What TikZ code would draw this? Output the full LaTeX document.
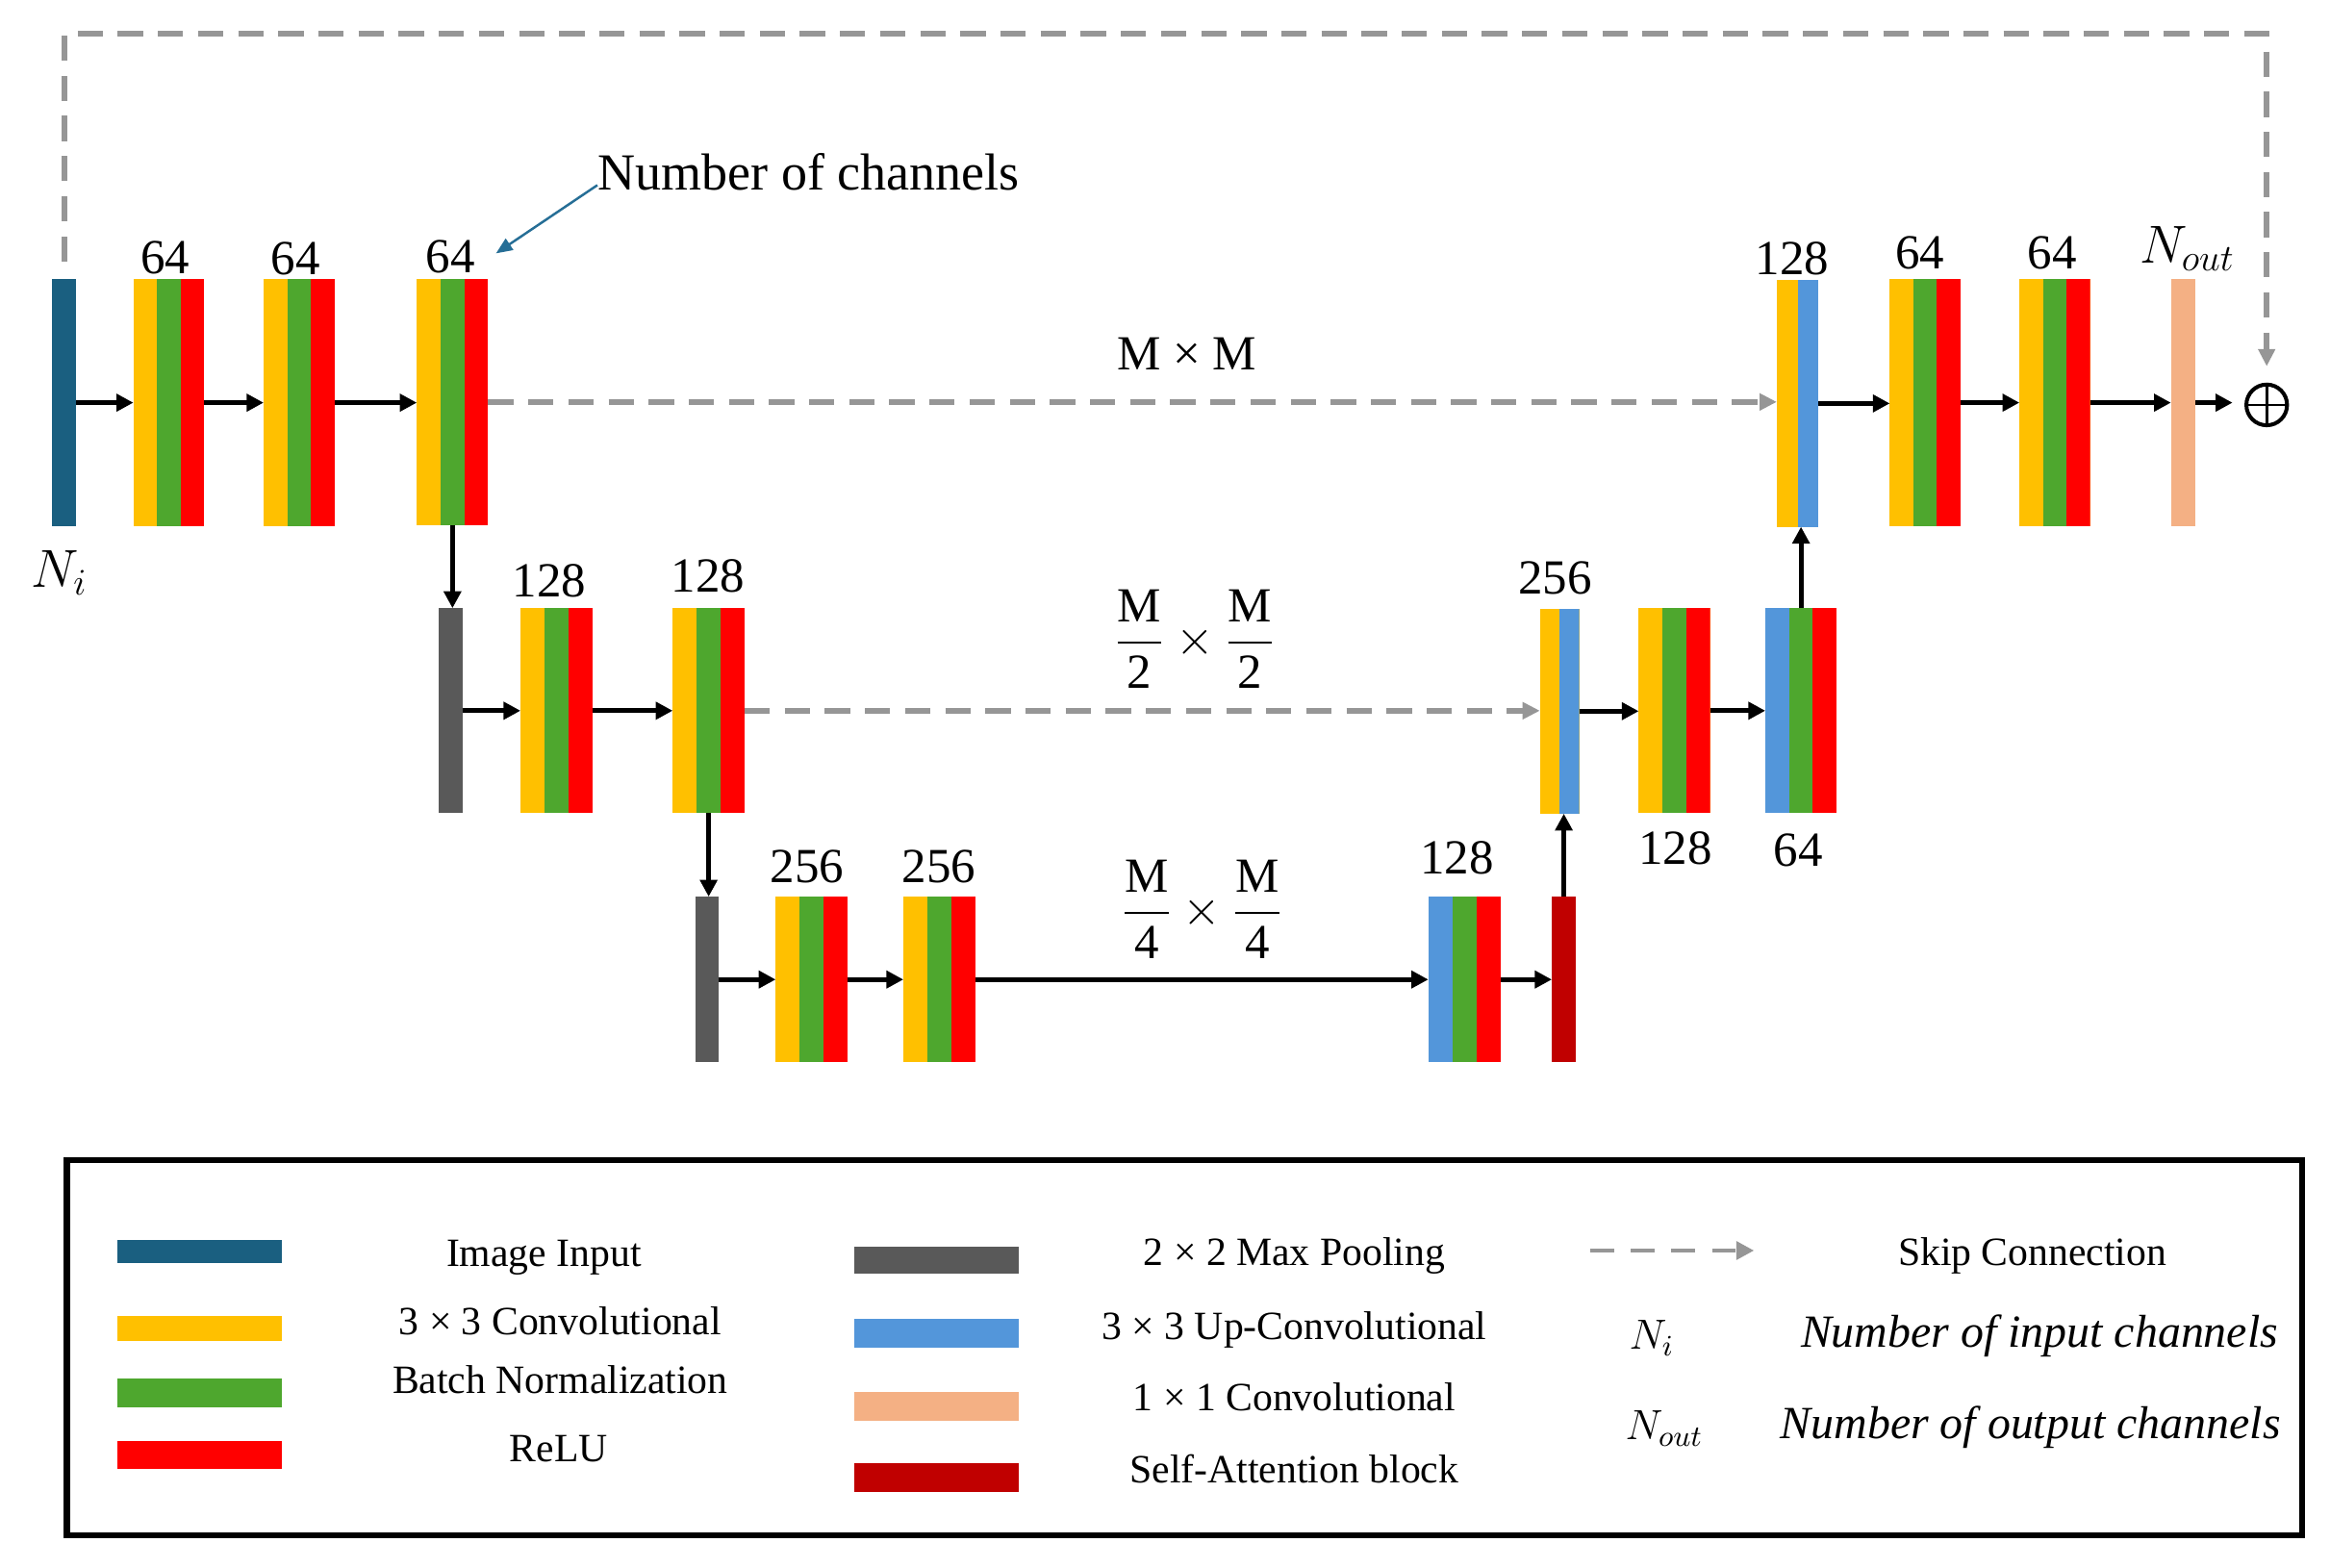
\RequirePackage{fix-cm}
\documentclass[tikz,border=0pt]{standalone}
\usepackage{amsmath}
\usepackage{fontspec}
\setmainfont{Liberation Serif}
\usetikzlibrary{arrows.meta,calc}

\definecolor{cin}{RGB}{26,95,128}
\definecolor{cyel}{RGB}{255,192,0}
\definecolor{cgrn}{RGB}{78,167,46}
\definecolor{cred}{RGB}{255,0,0}
\definecolor{cpool}{RGB}{89,89,89}
\definecolor{cup}{RGB}{83,150,218}
\definecolor{cpeach}{RGB}{244,176,132}
\definecolor{csa}{RGB}{192,0,0}
\definecolor{cskip}{RGB}{150,150,150}
\definecolor{cann}{RGB}{38,110,150}

\newcommand\mylblfont{\fontsize{16.5}{19}\selectfont}
\newcommand\mylgdfont{\fontsize{13.5}{16}\selectfont}
\newcommand\mynfont{\fontsize{18}{21}\selectfont}
\newcommand\mylnfont{\fontsize{14.2}{17}\selectfont}
\newcommand\myitfont{\fontsize{15.5}{18}\selectfont\itshape}

\tikzset{
  blk/.style={inner sep=0pt, outer sep=0pt},
  one/.style={blk, fill=#1},
  two/.style 2 args={blk, fill=#1, path picture={
     \fill[#1] (path picture bounding box.south west) rectangle ($(path picture bounding box.north west)!0.5!(path picture bounding box.north east)$);
     \fill[#2] ($(path picture bounding box.south west)!0.5!(path picture bounding box.south east)$) rectangle (path picture bounding box.north east);}},
  three/.style n args={3}{blk, fill=#1, path picture={
     \fill[#1] (path picture bounding box.south west) rectangle ($(path picture bounding box.north west)!1/3!(path picture bounding box.north east)$);
     \fill[#2] ($(path picture bounding box.south west)!1/3!(path picture bounding box.south east)$) rectangle ($(path picture bounding box.north west)!2/3!(path picture bounding box.north east)$);
     \fill[#3] ($(path picture bounding box.south west)!2/3!(path picture bounding box.south east)$) rectangle (path picture bounding box.north east);}},
  rowa/.style={minimum height=83pt},
  rowb/.style={minimum height=69pt},
  rowc/.style={minimum height=55.75pt},
  arr/.style={line width=1.6pt, -{Triangle[length=5.7pt,width=5.7pt]}},
  skip/.style={draw=cskip, line width=1.8pt, dash pattern=on 8.5pt off 5pt, -{Triangle[length=5.8pt,width=5.5pt]}},
  legskip/.style={draw=cskip, line width=1.5pt, dash pattern=on 8pt off 5.7pt, -{Triangle[length=6pt,width=6pt]}},
  lab/.style={inner sep=0pt, anchor=base, font=\mylblfont},
  leg/.style={inner sep=0pt, anchor=base, font=\mylgdfont},
}

\begin{document}
\begin{tikzpicture}[x=0.5pt, y=-0.5pt]
\useasboundingbox (0,0) rectangle (1568,1055);

% ---------- row 1 ----------
\node[one=cin, minimum width=8pt, rowa] (in) at (43.25,271) {};
\node[three={cyel}{cgrn}{cred}, minimum width=23.75pt, rowa] (c1) at (113.5,271) {};
\node[three={cyel}{cgrn}{cred}, minimum width=24pt, rowa] (c2) at (201.4,271) {};
\node[three={cyel}{cgrn}{cred}, minimum width=24pt, rowa] (c3) at (304.5,270.5) {};
\node[two={cyel}{cup}, minimum width=14pt, rowa] (u1) at (1209.7,271.5) {};
\node[three={cyel}{cgrn}{cred}, minimum width=23.75pt, rowa] (c4) at (1295.5,271) {};
\node[three={cyel}{cgrn}{cred}, minimum width=23.8pt, rowa] (c5) at (1382.8,271) {};
\node[one=cpeach, minimum width=8.25pt, rowa] (out) at (1469.2,271) {};
\node[circle, draw, line width=1.3pt, minimum size=13.7pt, inner sep=0pt] (sum) at (1525.4,272.5) {};
\draw[line width=0.9pt] (sum.north) -- (sum.south) (sum.west) -- (sum.east);

% ---------- row 2 ----------
\node[one=cpool, minimum width=8pt, rowb] (p1) at (303.5,478.3) {};
\node[three={cyel}{cgrn}{cred}, minimum width=24.4pt, rowb] (c6) at (374.7,478.3) {};
\node[three={cyel}{cgrn}{cred}, minimum width=24.2pt, rowb] (c7) at (476.9,478.3) {};
\node[two={cyel}{cup}, minimum width=13.25pt, rowb] (u2) at (1049.5,478.6) {};
\node[three={cyel}{cgrn}{cred}, minimum width=24pt, rowb] (c8) at (1126.8,478.3) {};
\node[three={cup}{cgrn}{cred}, minimum width=24pt, rowb] (c9) at (1212,478.3) {};

% ---------- row 3 ----------
\node[one=cpool, minimum width=7.5pt, rowc] (p2) at (475.8,659.2) {};
\node[three={cyel}{cgrn}{cred}, minimum width=24.2pt, rowc] (c10) at (546.2,659.2) {};
\node[three={cyel}{cgrn}{cred}, minimum width=24.35pt, rowc] (c11) at (632.3,659.2) {};
\node[three={cup}{cgrn}{cred}, minimum width=24.4pt, rowc] (c12) at (985.6,659.2) {};
\node[one=csa, minimum width=8.1pt, rowc] (sa) at (1052.4,659.2) {};

% ---------- connectors ----------
\draw[arr] (in.east) -- (in.east -| c1.west);
\draw[arr] (c1.east) -- (c1.east -| c2.west);
\draw[arr] (c2.east) -- (c2.east -| c3.west);
\draw[skip] (c3.east) -- (c3.east -| u1.west);
\draw[arr] (u1.east) -- (u1.east -| c4.west);
\draw[arr] (c4.east) -- (c4.east -| c5.west);
\draw[arr] (c5.east) -- (c5.east -| out.west);
\draw[arr, shorten >=4pt] (out.east) -- (out.east -| sum.west);

\draw[arr] (c3.south) -- (c3.south |- p1.north);
\draw[arr] (p1.east) -- (p1.east -| c6.west);
\draw[arr] (c6.east) -- (c6.east -| c7.west);
\draw[skip] (c7.east) -- (c7.east -| u2.west);
\draw[arr] (u2.east) -- (u2.east -| c8.west);
\draw[arr] (c8.east) -- (c8.east -| c9.west);
\draw[arr] (c9.north) -- (c9.north |- u1.south);

\draw[arr] (c7.south) -- (c7.south |- p2.north);
\draw[arr] (p2.east) -- (p2.east -| c10.west);
\draw[arr] (c10.east) -- (c10.east -| c11.west);
\draw[arr] (c11.east) -- (c11.east -| c12.west);
\draw[arr] (c12.east) -- (c12.east -| sa.west);
\draw[arr] (sa.north) -- (sa.north |- u2.south);

\coordinate (ts) at (43.5,176);
\coordinate (tt) at (0,22.8);
\draw[skip, shorten >=5.5pt] (ts) -- (ts |- tt) -| (sum.north);

% ---------- labels ----------
\node[lab] (l1) at (111.1,184) {64};
\node[lab] (l2) at (199,185) {64};
\node[lab] (l3) at (303.2,183.4) {64};
\node[lab] (l4) at (1206,184.6) {128};
\node[lab] (l5) at (1292,181) {64};
\node[lab] (l6) at (1381,181) {64};
\node[inner sep=0pt, anchor=base, font=\mynfont] (lout) at (1472,177) {$N_{out}$};
\node[inner sep=0pt, anchor=base, font=\mynfont] (lin) at (40,395) {$N_i$};

\node[lab] (l7) at (369.5,402) {128};
\node[lab] (l8) at (476.4,398.4) {128};
\node[lab] (l9) at (1046.4,399.5) {256};
\node[lab] (l10) at (1127.5,582) {128};
\node[lab] (l11) at (1210,583) {64};

\node[lab] (l12) at (543,594) {256};
\node[lab] (l13) at (632,594) {256};
\node[lab] (l14) at (980.5,588) {128};

\node[lab] (mm) at (798.8,249) {M × M};
\node[inner sep=0pt, font=\mylblfont] (mm2) at (804,430) {$\dfrac{\mbox{M}}{\mbox{2}}\times\dfrac{\mbox{M}}{\mbox{2}}$};
\node[inner sep=0pt, font=\mylblfont] (mm4) at (809,612) {$\dfrac{\mbox{M}}{\mbox{4}}\times\dfrac{\mbox{M}}{\mbox{4}}$};

\node[inner sep=0pt, anchor=base west, font=\fontsize{17.5}{20}\selectfont] (nch) at (402,127.6) {Number of channels};
\coordinate (ctip) at (333.8,170.5);
\draw[cann, line width=0.8pt, -{Triangle[length=5.5pt,width=4.5pt]}] ([yshift=1.5pt]nch.base west) -- (ctip);

% ---------- legend ----------
\node[draw, line width=2pt, inner sep=0pt, minimum width=752pt, minimum height=126pt] (legend) at (797,907) {};

\node[one=cin, minimum width=55.25pt, minimum height=8pt] (s1) at (134.25,842.3) {};
\node[one=cyel, minimum width=55.25pt, minimum height=8.3pt] (s2) at (134.25,894.2) {};
\node[one=cgrn, minimum width=55.25pt, minimum height=9.5pt] (s3) at (134.25,937.5) {};
\node[one=cred, minimum width=55.25pt, minimum height=9.4pt] (s4) at (134.25,979.4) {};
\node[one=cpool, minimum width=55.2pt, minimum height=9.3pt] (s5) at (630.2,848.1) {};
\node[one=cup, minimum width=55.2pt, minimum height=9.8pt] (s6) at (630.2,897.4) {};
\node[one=cpeach, minimum width=55.2pt, minimum height=9.5pt] (s7) at (630.2,946.5) {};
\node[one=csa, minimum width=55.2pt, minimum height=9.75pt] (s8) at (630.2,994.25) {};

\node[leg] (t1) at (366,852) {Image Input};
\node[leg] (t2) at (377,898.2) {3 × 3 Convolutional};
\node[leg] (t3) at (377,937.7) {Batch Normalization};
\node[leg] (t4) at (376,983.6) {ReLU};
\node[leg] (t5) at (871,851.4) {2 × 2 Max Pooling};
\node[leg] (t6) at (871,901.4) {3 × 3 Up-Convolutional};
\node[leg] (t7) at (871,949.5) {1 × 1 Convolutional};
\node[leg] (t8) at (871,998) {Self-Attention block};

\coordinate (ls) at (1070,841.6);
\coordinate (le) at (1180.4,841.6);
\draw[legskip] (ls) -- (le);
\node[leg] (t9) at (1367.7,851.4) {Skip Connection};
\node[inner sep=0pt, anchor=base, font=\mylnfont] (t10) at (1111.5,908) {$N_i$};
\node[inner sep=0pt, anchor=base, font=\myitfont] (t11) at (1372.5,906.4) {Number of input channels};
\node[inner sep=0pt, anchor=base, font=\mylnfont] (t12) at (1120,969) {$N_{out}$};
\node[inner sep=0pt, anchor=base, font=\myitfont] (t13) at (1366.4,968) {Number of output channels};
\end{tikzpicture}
\end{document}
